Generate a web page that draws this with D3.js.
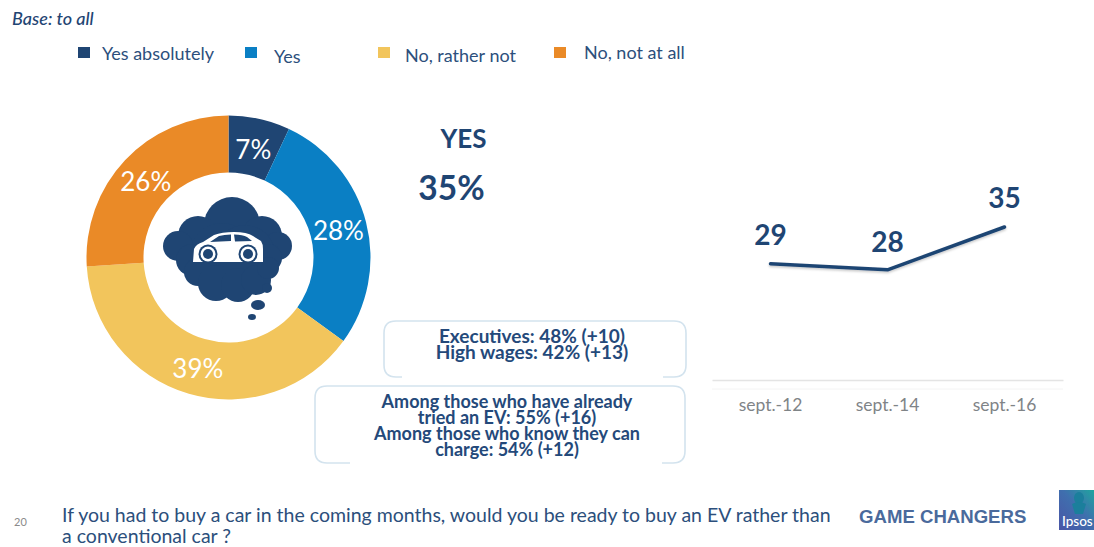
<!DOCTYPE html>
<html>
<head>
<meta charset="utf-8">
<script src="https://cdn.jsdelivr.net/npm/d3@7/dist/d3.min.js"></script>
<style>
  html, body { margin: 0; padding: 0; background: #fff; }
  svg { display: block; }
  text { font-family: Lato, "Open Sans", sans-serif; }
</style>
</head>
<body>
<svg id="chart" width="1094" height="547"></svg>
<script>
// Purchase intent split
const answerLabels = ["Yes absolutely", "Yes", "No, rather not", "No, not at all"];
const answerValues = [7, 28, 39, 26];
const answerColors = ["#1f4573", "#0a7fc4", "#f2c55c", "#ea8a27"];

// Trend of the combined "yes" score
const trendLabels = ["sept.-12", "sept.-14", "sept.-16"];
const trendValues = [29, 28, 35];

// Callout copy
const executiveLines = ["Executives: 48% (+10)", "High wages: 42% (+13)"];
const evLines = [
  "Among those who have already",
  "tried an EV: 55% (+16)",
  "Among those who know they can",
  "charge: 54% (+12)"
];
const questionLines = [
  "If you had to buy a car in the coming months, would you be ready to buy an EV rather than",
  "a conventional car ?"
];

const NAVY = "#1f4573";
const svg = d3.select("#chart");

const defs = svg.append("defs");
const shadow = defs.append("filter").attr("id", "soft")
  .attr("x", "-10%").attr("y", "-40%").attr("width", "120%").attr("height", "200%");
shadow.append("feDropShadow")
  .attr("dx", 0).attr("dy", 1.5).attr("stdDeviation", 1.2)
  .attr("flood-color", "#000").attr("flood-opacity", 0.22);
const tile = defs.append("linearGradient").attr("id", "tile")
  .attr("x1", 0).attr("y1", 1).attr("x2", 1).attr("y2", 0);
tile.append("stop").attr("offset", "0%").attr("stop-color", "#4a55a6");
tile.append("stop").attr("offset", "55%").attr("stop-color", "#3f6fae");
tile.append("stop").attr("offset", "100%").attr("stop-color", "#1fa59f");

// Header note
svg.append("text").attr("x", 12).attr("y", 25)
  .attr("font-size", 18).attr("font-style", "italic").attr("font-weight", 500)
  .attr("fill", NAVY).text("Base: to all");

// Legend: hand-placed entries, as laid out on the slide
const legendSwatchX = [78, 245, 378, 554];
const legendSwatchY = [47, 47, 47, 47];
const legendTextX = [102, 274, 405, 584];
const legendTextY = [60, 63, 62, 59];
const legend = svg.append("g").selectAll("g").data(answerLabels).join("g");
legend.append("rect")
  .attr("x", (d, i) => legendSwatchX[i]).attr("y", (d, i) => legendSwatchY[i])
  .attr("width", 12).attr("height", 11)
  .attr("fill", (d, i) => answerColors[i]);
legend.append("text")
  .attr("x", (d, i) => legendTextX[i]).attr("y", (d, i) => legendTextY[i])
  .attr("font-size", 18).attr("fill", "#2c4f7c").text(d => d);

// Donut
const donutX = 228.5, donutY = 257.5, outerR = 142, innerR = 85;
const pie = d3.pie().sort(null)(answerValues);
const arc = d3.arc().innerRadius(innerR).outerRadius(outerR);
const donut = svg.append("g").attr("transform", `translate(${donutX},${donutY})`);
donut.selectAll("path").data(pie).join("path")
  .attr("d", arc).attr("fill", (d, i) => answerColors[i]);

// Value labels sit off the ring centre on the slide, so each carries a nudge
const labelNudgeX = [0, 0, 1, 0];
const labelNudgeY = [2, 1, 2, 1];
donut.selectAll("text").data(pie).join("text")
  .attr("x", (d, i) => arc.centroid(d)[0] + labelNudgeX[i])
  .attr("y", (d, i) => arc.centroid(d)[1] + labelNudgeY[i])
  .attr("text-anchor", "middle").attr("dominant-baseline", "central")
  .attr("font-size", 26).attr("fill", "#fff")
  .text(d => d.value + "%");

// Thought-bubble pictogram with a car inside
const icon = svg.append("g").attr("fill", NAVY);
const puffs = [
  [232, 225, 28], [198, 236, 20], [262, 236, 20], [178, 246, 15], [278, 246, 14],
  [222, 255, 32], [245, 255, 30], [192, 260, 16], [268, 258, 14],
  [198, 272, 14], [216, 283, 18], [238, 285, 17], [256, 280, 15], [268, 268, 11], [267, 288, 5]
];
icon.selectAll("circle").data(puffs).join("circle")
  .attr("cx", d => d[0]).attr("cy", d => d[1]).attr("r", d => d[2]);
icon.append("ellipse").attr("cx", 258).attr("cy", 305).attr("rx", 7).attr("ry", 5);
icon.append("ellipse").attr("cx", 252).attr("cy", 317).attr("rx", 4).attr("ry", 3);

const car = svg.append("g");
car.append("path").attr("fill", "#fff")
  .attr("d", "M193 262 L194 249 Q196 244 203 242 L214 235 Q222 232 234 232 Q247 232 253 236 L261 241 Q263 244 263 249 L263 262 Z");
car.append("path").attr("fill", NAVY)
  .attr("d", "M210 242 L219 236 Q224 234.5 231 234.5 L231 241 Z M234 234.5 Q243 234.5 247 237 L252 241 L235 241.5 Z");
[[208, 254], [248, 254]].forEach(([cx, cy]) => {
  car.append("circle").attr("cx", cx).attr("cy", cy).attr("r", 9.5).attr("fill", NAVY);
  car.append("circle").attr("cx", cx).attr("cy", cy).attr("r", 7.5).attr("fill", "#fff");
  car.append("circle").attr("cx", cx).attr("cy", cy).attr("r", 5).attr("fill", NAVY);
});

// Headline score
svg.append("text").attr("x", 463.5).attr("y", 148).attr("text-anchor", "middle")
  .attr("font-size", 26).attr("font-weight", 700).attr("fill", NAVY).text("YES");
svg.append("text").attr("x", 451.5).attr("y", 200).attr("text-anchor", "middle")
  .attr("font-size", 33.5).attr("font-weight", 700).attr("fill", NAVY)
  .text(answerValues[0] + answerValues[1] + "%");

// Callout frames: top and sides are drawn, the bottom edge only at its corners
function frame(x0, y0, x1, y1, leftEnd, rightStart) {
  const r = 12;
  const p = d3.path();
  p.moveTo(leftEnd, y1);
  p.lineTo(x0 + r, y1);
  p.quadraticCurveTo(x0, y1, x0, y1 - r);
  p.lineTo(x0, y0 + r);
  p.quadraticCurveTo(x0, y0, x0 + r, y0);
  p.lineTo(x1 - r, y0);
  p.quadraticCurveTo(x1, y0, x1, y0 + r);
  p.lineTo(x1, y1 - r);
  p.quadraticCurveTo(x1, y1, x1 - r, y1);
  p.lineTo(rightStart, y1);
  svg.append("path").attr("d", p.toString())
    .attr("fill", "none").attr("stroke", "#d3e3ee").attr("stroke-width", 1.6);
}
frame(384, 321, 686, 377, 402, 663);
frame(315, 386, 685, 463, 350, 662);

function callout(lines, cx, firstY, step, size) {
  svg.append("g").selectAll("text").data(lines).join("text")
    .attr("x", cx).attr("y", (d, i) => firstY + i * step)
    .attr("text-anchor", "middle").attr("font-size", size).attr("font-weight", 700)
    .attr("fill", "#24497a").text(d => d);
}
callout(executiveLines, 532, 343, 16, 19);
callout(evLines, 507, 408, 16, 18);

// Trend line over a band axis
const x = d3.scaleBand().domain(trendLabels).range([712, 1063]);
const y = d3.scaleLinear().domain([10, 35]).range([380, 227]);
const line = d3.line()
  .x((d, i) => x(trendLabels[i]) + x.bandwidth() / 2)
  .y(d => y(d));

svg.append("path").datum(trendValues)
  .attr("d", line).attr("fill", "none")
  .attr("stroke", NAVY).attr("stroke-width", 3.5).attr("stroke-linecap", "round")
  .attr("stroke-linejoin", "round").attr("filter", "url(#soft)");

const trendLabelLift = [19, 18, 19];
svg.append("g").selectAll("text").data(trendValues).join("text")
  .attr("x", (d, i) => x(trendLabels[i]) + x.bandwidth() / 2)
  .attr("y", (d, i) => y(d) - trendLabelLift[i])
  .attr("text-anchor", "middle").attr("font-size", 28).attr("font-weight", 700)
  .attr("fill", NAVY).text(d => d);

const axis = svg.append("g").attr("transform", "translate(0,380)")
  .call(d3.axisBottom(x).tickSize(0).tickPadding(19));
axis.select(".domain").attr("stroke", "#e4e4e4").attr("stroke-width", 1.5);
axis.selectAll("text").attr("font-size", 17.5).attr("fill", "#7f8487")
  .style("font-family", "Lato, sans-serif");
svg.append("line").attr("x1", 712).attr("x2", 1063).attr("y1", 389).attr("y2", 389)
  .attr("stroke", "#f4f4f4");

// Footer
svg.append("text").attr("x", 14).attr("y", 526)
  .attr("font-size", 11).attr("fill", "#8a8a8a").text("20");
svg.append("g").selectAll("text").data(questionLines).join("text")
  .attr("x", 62).attr("y", (d, i) => 522 + i * 21)
  .attr("font-size", 19.5).attr("fill", "#2c4f7c").text(d => d);
svg.append("text").attr("x", 859).attr("y", 523)
  .style("font-family", "'Liberation Sans', sans-serif")
  .attr("font-size", 18.6).attr("font-weight", 700).attr("fill", "#4a6a9c").text("GAME CHANGERS");

// Brand tile in the corner
svg.append("rect").attr("x", 1059).attr("y", 490).attr("width", 35).attr("height", 40).attr("fill", "url(#tile)");
svg.append("ellipse").attr("cx", 1079).attr("cy", 498).attr("rx", 5).attr("ry", 6).attr("fill", "#1b7f9c");
svg.append("path").attr("d", "M1072 504 Q1079 500 1086 504 L1083 514 L1075 514 Z").attr("fill", "#1b7f9c");
svg.append("text").attr("x", 1062).attr("y", 526)
  .attr("font-size", 13.5).attr("font-weight", 500).attr("fill", "#fff").text("Ipsos");
</script>
</body>
</html>
